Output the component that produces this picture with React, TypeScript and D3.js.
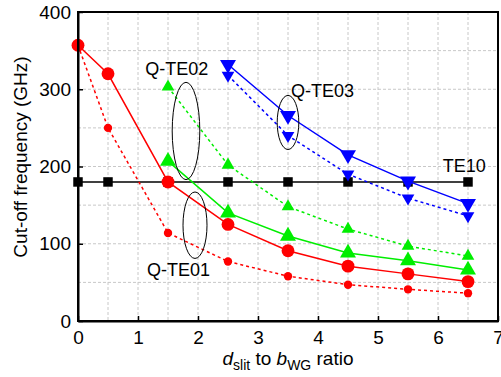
import React, { useEffect, useRef } from "react";
import * as d3 from "d3";

// x positions (d_slit / b_WG ratio)
const xAll = [0, 0.5, 1.5, 2.5, 3.5, 4.5, 5.5, 6.5];
const xFrom15 = [1.5, 2.5, 3.5, 4.5, 5.5, 6.5];
const xFrom25 = [2.5, 3.5, 4.5, 5.5, 6.5];

const te01Solid = [357, 320, 180, 125, 91, 71, 61, 51];
const te01Dash = [357, 250, 114, 77, 58, 47, 41, 36];
const te02Solid = [207, 140, 110, 88, 78, 66];
const te02Dash = [303, 202, 148, 119, 97, 84];
const te03Solid = [332, 266, 215, 181, 152];
const te03Dash = [318, 240, 190, 159, 136];
const te10 = [180, 180, 180, 180, 180, 180, 180, 180];

const xTicks = [0, 1, 2, 3, 4, 5, 6, 7];
const yTicks = [0, 100, 200, 300, 400];

// annotation ellipses: [cx, cy, rx, ry] in data units
const ellipses = [
  [1.8, 246, 0.23, 63],
  [3.5, 257, 0.18, 35],
  [1.95, 124, 0.2, 43],
];
const labels = [
  { text: "Q-TE02", x: 1.12, y: 318 },
  { text: "Q-TE03", x: 3.55, y: 290 },
  { text: "Q-TE01", x: 1.15, y: 58 },
  { text: "TE10", x: 6.08, y: 193 },
];

const font = "Arial, 'Liberation Sans', sans-serif";

const App = () => {
  const svgRef = useRef<SVGSVGElement>(null);

  useEffect(() => {
    const svg = d3.select(svgRef.current);
    svg.selectAll("*").remove();

    const margin = { top: 12, right: 3, bottom: 56, left: 78 };
    const width = 501;
    const height = 377;
    const w = width - margin.left - margin.right;
    const h = height - margin.top - margin.bottom;

    const x = d3.scaleLinear().domain([0, 7]).range([0, w]);
    const y = d3.scaleLinear().domain([0, 400]).range([h, 0]);

    const g = svg
      .append("g")
      .attr("transform", `translate(${margin.left},${margin.top})`);

    // grid
    const gridX = d3.range(0.5, 7, 0.5);
    const gridY = d3.range(50, 400, 50);
    g.selectAll(".gx")
      .data(gridX)
      .enter()
      .append("line")
      .attr("x1", (d) => x(d))
      .attr("x2", (d) => x(d))
      .attr("y1", 0)
      .attr("y2", h)
      .attr("stroke", "#c8c8c8")
      .attr("stroke-dasharray", "3,2");
    g.selectAll(".gy")
      .data(gridY)
      .enter()
      .append("line")
      .attr("x1", 0)
      .attr("x2", w)
      .attr("y1", (d) => y(d))
      .attr("y2", (d) => y(d))
      .attr("stroke", "#c8c8c8")
      .attr("stroke-dasharray", "3,2");

    const drawSeries = (
      xs: number[],
      ys: number[],
      color: string,
      dashed: boolean,
      marker: string,
      size: number,
      width: number
    ) => {
      const line = d3
        .line<number>()
        .x((d, i) => x(xs[i]))
        .y((d) => y(d));
      g.append("path")
        .datum(ys)
        .attr("d", line)
        .attr("fill", "none")
        .attr("stroke", color)
        .attr("stroke-width", width)
        .attr("stroke-dasharray", dashed ? "3,3" : null);

      const symType =
        marker === "circle"
          ? d3.symbolCircle
          : marker === "square"
          ? d3.symbolSquare
          : d3.symbolTriangle;
      const sym = d3.symbol().type(symType).size(size);
      g.selectAll(null)
        .data(ys)
        .enter()
        .append("path")
        .attr("d", sym)
        .attr(
          "transform",
          (d, i) =>
            `translate(${x(xs[i])},${y(d)})` +
            (marker === "down" ? " rotate(180)" : "")
        )
        .attr("fill", color);
    };

    drawSeries(xAll, te10, "#000", false, "square", 90, 1.5);
    drawSeries(xAll, te01Dash, "#ff0000", true, "circle", 55, 1.5);
    drawSeries(xAll, te01Solid, "#ff0000", false, "circle", 130, 1.5);
    drawSeries(xFrom15, te02Dash, "#00ee00", true, "up", 70, 1.5);
    drawSeries(xFrom15, te02Solid, "#00ee00", false, "up", 110, 1.5);
    drawSeries(xFrom25, te03Dash, "#0000ff", true, "down", 70, 1.5);
    drawSeries(xFrom25, te03Solid, "#0000ff", false, "down", 110, 1.5);

    // ellipses
    g.selectAll(".ell")
      .data(ellipses)
      .enter()
      .append("ellipse")
      .attr("cx", (d) => x(d[0]))
      .attr("cy", (d) => y(d[1]))
      .attr("rx", (d) => x(d[2]) - x(0))
      .attr("ry", (d) => y(0) - y(d[3]))
      .attr("fill", "none")
      .attr("stroke", "#000")
      .attr("stroke-width", 1);

    g.selectAll(".lbl")
      .data(labels)
      .enter()
      .append("text")
      .attr("x", (d) => x(d.x))
      .attr("y", (d) => y(d.y))
      .attr("font-family", font)
      .attr("font-size", 18)
      .attr("fill", "#000")
      .text((d) => d.text);

    // frame
    g.append("rect")
      .attr("x", 0)
      .attr("y", 0)
      .attr("width", w)
      .attr("height", h)
      .attr("fill", "none")
      .attr("stroke", "#000")
      .attr("stroke-width", 2);

    // axes
    const xAxis = g
      .append("g")
      .attr("transform", `translate(0,${h})`)
      .call(
        d3
          .axisBottom(x)
          .tickValues(xTicks)
          .tickFormat(d3.format("d"))
          .tickSizeInner(-5)
          .tickSizeOuter(0)
          .tickPadding(10)
      );
    const yAxis = g
      .append("g")
      .call(
        d3
          .axisLeft(y)
          .tickValues(yTicks)
          .tickFormat(d3.format("d"))
          .tickSizeInner(-5)
          .tickSizeOuter(0)
          .tickPadding(7)
      );
    [xAxis, yAxis].forEach((a) => {
      a.select(".domain").attr("stroke-width", 2);
      a.selectAll(".tick line").attr("stroke-width", 1.5);
      a.selectAll("text")
        .attr("font-family", font)
        .attr("font-size", 19)
        .attr("fill", "#000");
    });

    // axis titles
    svg
      .append("text")
      .attr("transform", "translate(27,157) rotate(-90)")
      .attr("text-anchor", "middle")
      .attr("font-family", font)
      .attr("font-size", 19)
      .text("Cut-off frequency (GHz)");

    const xt = svg
      .append("text")
      .attr("x", margin.left + w / 2)
      .attr("y", 365)
      .attr("text-anchor", "middle")
      .attr("font-family", font)
      .attr("font-size", 19);
    xt.append("tspan").attr("font-style", "italic").text("d");
    xt.append("tspan").attr("font-size", 14).attr("dy", 5).text("slit");
    xt.append("tspan").attr("dy", -5).text(" to ");
    xt.append("tspan").attr("font-style", "italic").text("b");
    xt.append("tspan").attr("font-size", 14).attr("dy", 5).text("WG");
    xt.append("tspan").attr("dy", -5).text(" ratio");
  }, []);

  return (
    <svg
      ref={svgRef}
      width={501}
      height={377}
      style={{ position: "absolute", left: 0, top: 0, background: "#fff" }}
    ></svg>
  );
};

export default App;
